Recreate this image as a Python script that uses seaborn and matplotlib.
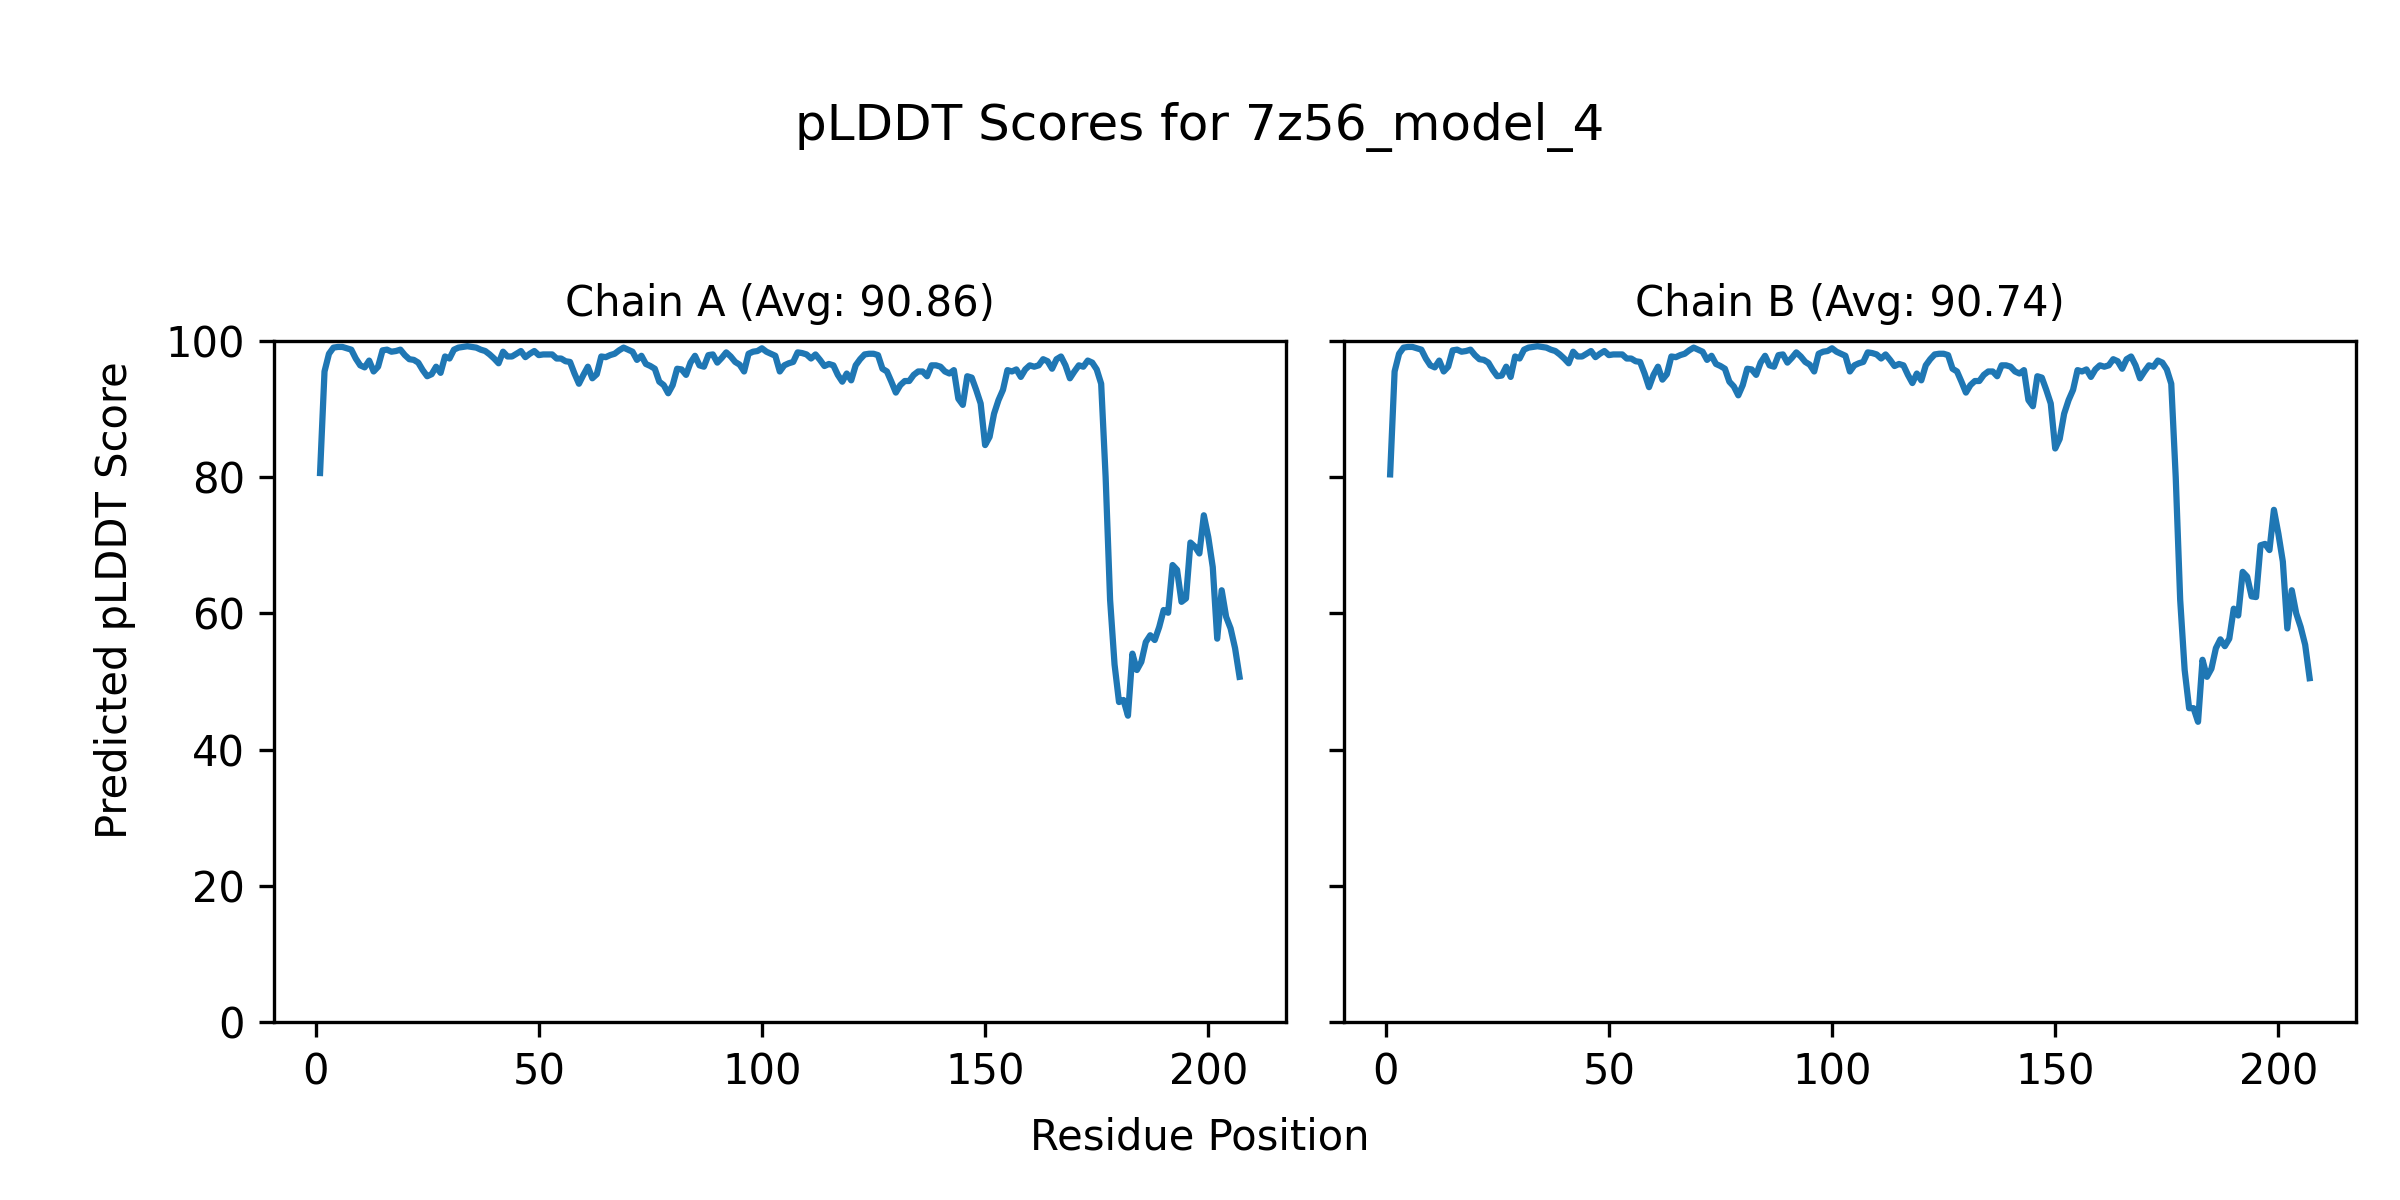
"""
pLDDT per-residue plot for two chains
"""

import numpy as np
import pandas as pd
import matplotlib
matplotlib.use("Agg")
import matplotlib.pyplot as plt
import seaborn as sns

plt.rcParams['font.family'] = ['DejaVu Sans']

model_name = "7z56_model_4"
chain_ids = ["A", "B"]
chain_avgs = [90.86, 90.74]

# per-residue pLDDT
plddt_a = [
    80.6, 95.5, 98.1, 99.0, 99.1, 99.1, 98.9, 98.7, 97.4, 96.4,
    96.1, 97.1, 95.5, 96.2, 98.6, 98.7, 98.4, 98.5, 98.7, 97.9,
    97.3, 97.2, 96.8, 95.7, 94.8, 95.1, 96.2, 95.3, 97.7, 97.4,
    98.7, 99.0, 99.1, 99.2, 99.1, 99.0, 98.7, 98.5, 98.0, 97.4,
    96.7, 98.4, 97.7, 97.7, 98.1, 98.5, 97.6, 98.1, 98.5, 97.9,
    98.0, 98.0, 98.0, 97.4, 97.4, 97.0, 96.9, 95.2, 93.7, 95.0,
    96.2, 94.5, 95.1, 97.7, 97.6, 97.9, 98.1, 98.6, 99.0, 98.7,
    98.4, 97.2, 97.8, 96.6, 96.3, 95.9, 94.0, 93.5, 92.3, 93.5,
    95.9, 95.8, 95.0, 96.8, 97.8, 96.4, 96.2, 97.9, 98.0, 96.8,
    97.5, 98.3, 97.7, 96.9, 96.5, 95.5, 98.1, 98.4, 98.5, 98.9,
    98.4, 98.1, 97.8, 95.5, 96.4, 96.7, 96.9, 98.3, 98.2, 98.0,
    97.4, 98.0, 97.2, 96.3, 96.6, 96.4, 95.0, 94.0, 95.2, 94.2,
    96.4, 97.3, 98.0, 98.1, 98.1, 97.9, 95.9, 95.5, 94.0, 92.4,
    93.5, 94.1, 94.1, 95.0, 95.5, 95.5, 94.8, 96.4, 96.4, 96.2,
    95.5, 95.2, 95.7, 91.5, 90.6, 94.8, 94.6, 92.8, 90.8, 84.7,
    85.9, 89.3, 91.3, 92.8, 95.7, 95.5, 95.8, 94.7, 95.8, 96.4,
    96.2, 96.4, 97.3, 97.0, 95.9, 97.3, 97.7, 96.4, 94.5, 95.5,
    96.4, 96.2, 97.1, 96.8, 95.8, 93.7, 80.0, 62.0, 52.5, 47.0,
    47.3, 45.0, 54.1, 51.7, 52.9, 55.8, 56.8, 56.1, 58.0, 60.5,
    60.1, 67.1, 66.4, 61.7, 62.2, 70.4, 69.8, 68.8, 74.4, 71.2,
    66.8, 56.3, 63.4, 59.5, 57.8, 54.9, 50.7,
]

plddt_b = [
    80.4, 95.5, 98.1, 99.0, 99.1, 99.1, 98.9, 98.7, 97.4, 96.4,
    96.1, 97.1, 95.5, 96.2, 98.6, 98.7, 98.4, 98.5, 98.7, 97.9,
    97.3, 97.2, 96.8, 95.7, 94.8, 94.9, 96.2, 94.7, 97.7, 97.4,
    98.7, 99.0, 99.1, 99.2, 99.1, 99.0, 98.7, 98.5, 98.0, 97.4,
    96.7, 98.4, 97.7, 97.7, 98.1, 98.5, 97.6, 98.1, 98.5, 97.9,
    98.0, 98.0, 98.0, 97.4, 97.4, 97.0, 96.9, 95.2, 93.2, 95.0,
    96.2, 94.3, 95.1, 97.7, 97.6, 97.9, 98.1, 98.6, 99.0, 98.7,
    98.4, 97.2, 97.8, 96.6, 96.3, 95.9, 94.0, 93.3, 92.0, 93.5,
    95.9, 95.8, 95.0, 96.8, 97.8, 96.4, 96.2, 97.9, 98.0, 96.8,
    97.5, 98.3, 97.7, 96.9, 96.5, 95.5, 98.1, 98.4, 98.5, 98.9,
    98.4, 98.1, 97.8, 95.5, 96.4, 96.7, 96.9, 98.3, 98.2, 98.0,
    97.4, 98.0, 97.2, 96.3, 96.6, 96.4, 95.0, 93.8, 95.2, 94.2,
    96.4, 97.3, 98.0, 98.1, 98.1, 97.9, 95.9, 95.5, 94.0, 92.4,
    93.5, 94.1, 94.1, 95.0, 95.5, 95.5, 94.8, 96.4, 96.4, 96.2,
    95.5, 95.2, 95.7, 91.3, 90.4, 94.8, 94.6, 92.8, 90.8, 84.2,
    85.6, 89.3, 91.3, 92.8, 95.7, 95.5, 95.8, 94.7, 95.8, 96.4,
    96.2, 96.4, 97.3, 97.0, 95.9, 97.3, 97.7, 96.4, 94.5, 95.5,
    96.4, 96.2, 97.1, 96.8, 95.8, 93.7, 80.0, 62.0, 51.7, 46.1,
    46.1, 44.1, 53.2, 50.7, 51.9, 54.9, 56.2, 55.2, 56.3, 60.7,
    59.7, 66.1, 65.4, 62.5, 62.4, 70.0, 70.2, 69.3, 75.2, 71.7,
    67.6, 57.8, 63.4, 60.0, 58.0, 55.4, 50.5,
]

chains = {"A": plddt_a, "B": plddt_b}

fig, axes = plt.subplots(1, 2, figsize=(8, 4), sharey=True)
fig.subplots_adjust(left=0.1142, right=0.9815, bottom=0.148, top=0.716, wspace=0.058)

for ax, cid, avg in zip(axes, chain_ids, chain_avgs):
    scores = chains[cid]
    df = pd.DataFrame({"residue": np.arange(1, len(scores) + 1), "plddt": scores})
    sns.lineplot(data=df, x="residue", y="plddt", ax=ax, color="#1f77b4", linewidth=1.5)
    ax.set_title(f"Chain {cid} (Avg: {avg:.2f})", fontsize=10)
    ax.set_xlabel("")
    ax.set_ylabel("")
    ax.set_ylim(0, 100)

fig.suptitle(f"pLDDT Scores for {model_name}", fontsize=12, y=0.915, va="top")
fig.text(0.5, 0.052, "Residue Position", ha="center", va="center", fontsize=10)
fig.text(0.048, 0.5, "Predicted pLDDT Score", ha="center", va="center",
         rotation=90, fontsize=10)

fig.savefig("out.png", dpi=300)
